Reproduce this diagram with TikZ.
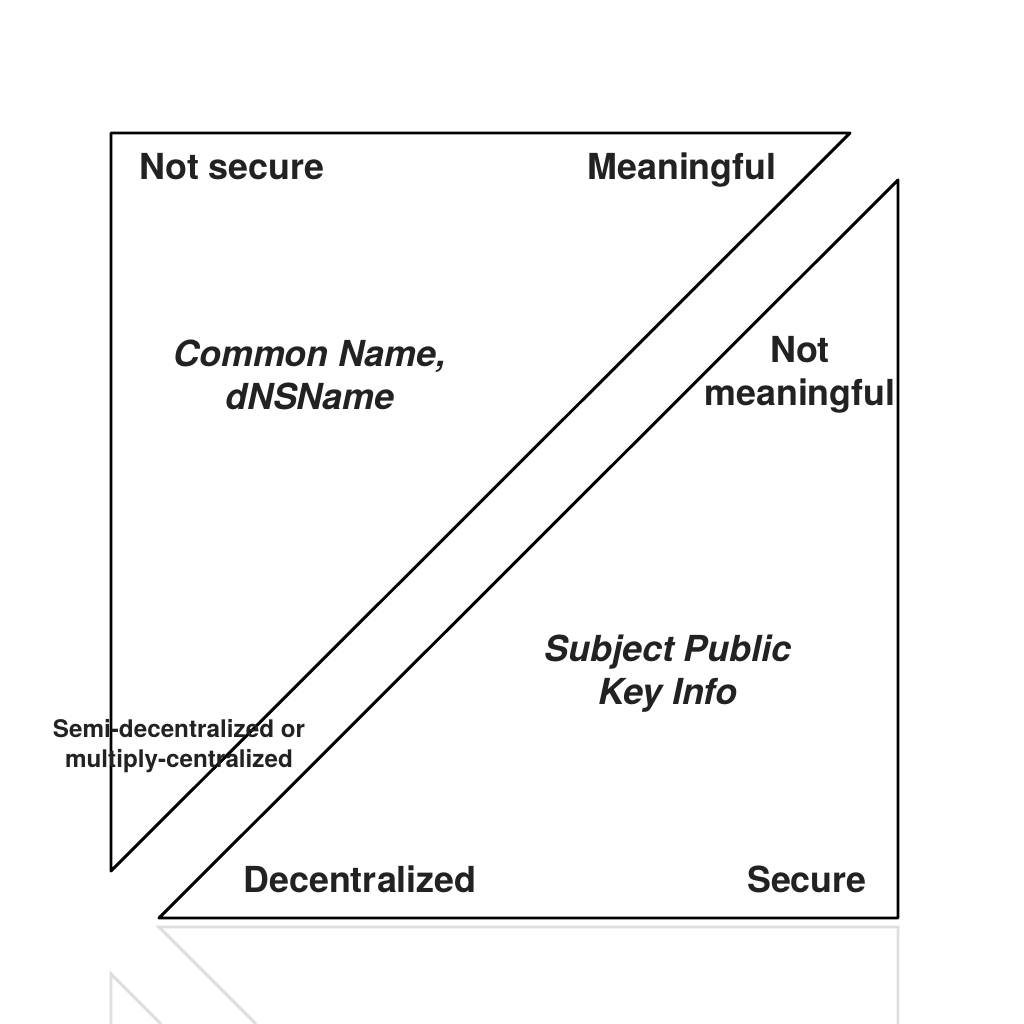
\documentclass[tikz,border=0pt]{standalone}
\usepackage{fontspec}
\setmainfont{TeX Gyre Heros}
\usetikzlibrary{calc}
\definecolor{textgray}{HTML}{222222}

\begin{document}
\begin{tikzpicture}[
  edge/.style={line width=0.85pt, line join=round, line cap=round},
  mirror/.style={line width=0.85pt, black!13},
  big/.style={font=\fontsize{10.2}{12.2}\selectfont\bfseries, text=textgray, align=center, inner sep=0pt},
  bigit/.style={big, font=\fontsize{10.2}{12.2}\selectfont\bfseries\itshape},
  small/.style={font=\fontsize{6.9}{8.5}\selectfont\bfseries, text=textgray, align=center, inner sep=0pt}]
\useasboundingbox (0,0) rectangle (10.24,10.24);

% Upper triangle
\coordinate (ul) at (1.11,8.91);
\coordinate (ur) at (8.50,8.91);
\coordinate (ub) at (1.11,1.53);
\draw[edge] (ul) -- (ur) -- (ub) -- cycle;

% Lower triangle
\coordinate (lt) at (8.98,8.44);
\coordinate (lr) at (8.98,1.06);
\coordinate (ll) at (1.59,1.06);
\draw[edge] (lt) -- (lr) -- (ll) -- cycle;

% Reflection
\begin{scope}
\clip (0,0) rectangle (10.24,10.24);
\draw[mirror] (2.56,0) -- (1.59,0.97) -- (8.98,0.97) -- (8.98,0);
\draw[mirror] (1.11,0) -- (1.11,0.50) -- (1.61,0);
\end{scope}

% Labels
\node[big] (notsecure) at (2.32,8.575) {Not secure};
\node[big] (meaningful) at (6.82,8.535) {Meaningful};
\node[bigit] (cn) at (3.10,6.495) {Common Name,\\dNSName};
\node[big] (notmeaningful) at (8.00,6.495) {Not\\meaningful};
\node[bigit] (spki) at (6.68,3.505) {Subject Public\\Key Info};
\node[small] (semi) at (1.79,2.78) {Semi-decentralized or\\multiply-centralized};
\node[big] (decentral) at (3.60,1.45) {Decentralized};
\node[big] (secure) at (8.07,1.45) {Secure};
\end{tikzpicture}
\end{document}
